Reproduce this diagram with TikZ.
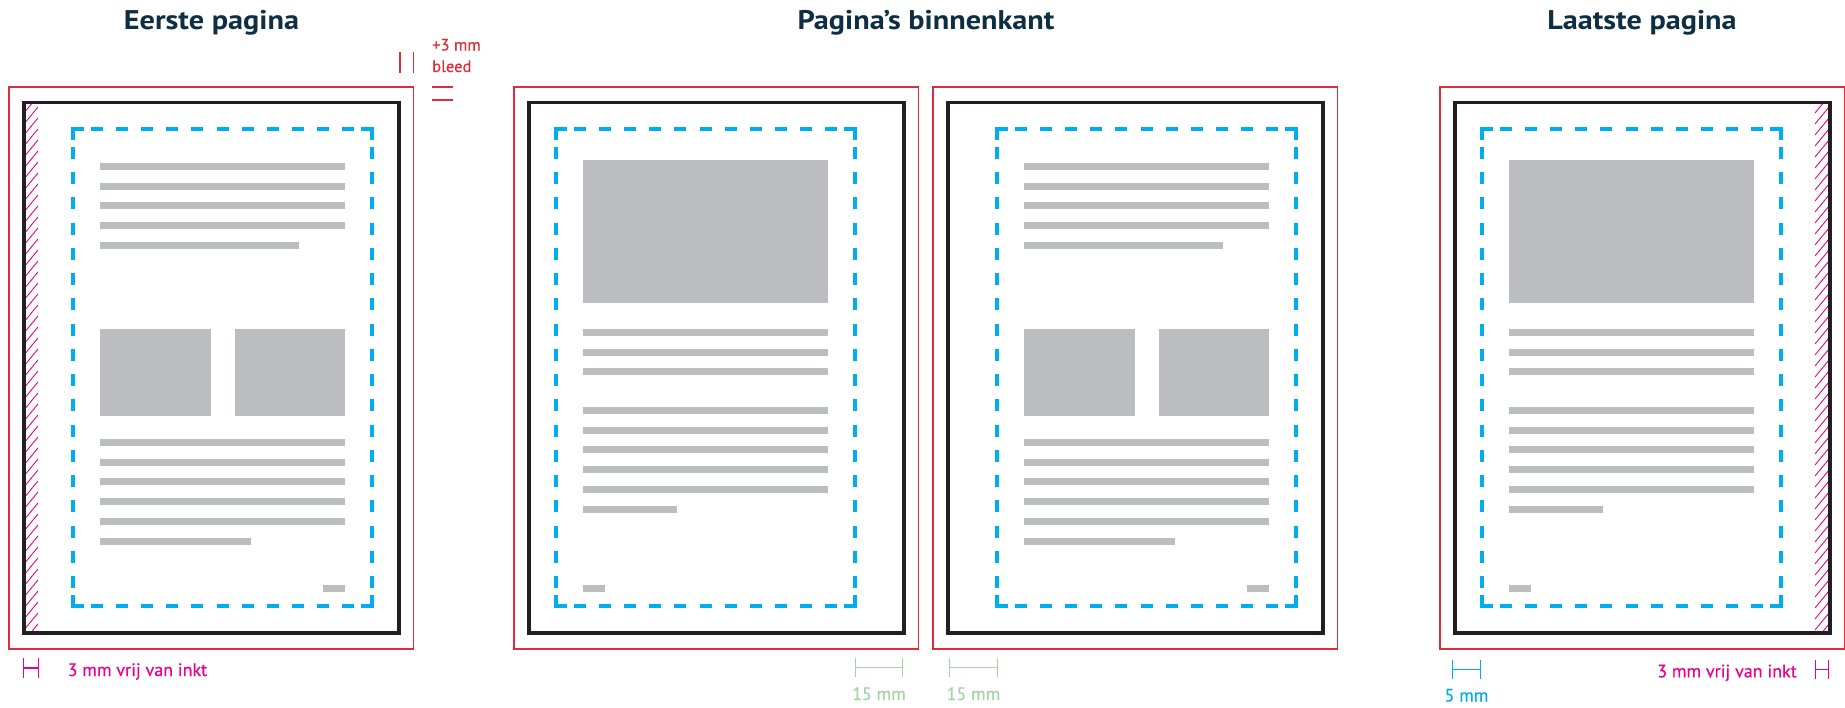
\documentclass[tikz,border=0pt]{standalone}
\usepackage{fontspec}
\setmainfont{PT Sans}
\newfontfamily\titlefont[FakeStretch=1.12]{PT Sans}
\newfontfamily\notefont[FakeBold=0.35]{PT Sans}
\definecolor{titlecol}{RGB}{14,46,68}
\definecolor{bleedred}{RGB}{222,44,56}
\definecolor{trimblack}{RGB}{35,31,32}
\definecolor{safeblue}{RGB}{0,174,239}
\definecolor{contentgray}{RGB}{188,189,192}
\definecolor{inkmag}{RGB}{236,0,140}
\definecolor{gutgreen}{RGB}{164,212,164}
\tikzset{
  bleedline/.style={draw=bleedred, line width=1.5pt},
  trimline/.style={draw=trimblack, line width=3.5pt},
  safeline/.style={draw=safeblue, line width=3.5pt, line cap=butt},
  block/.style={fill=contentgray},
  hatchline/.style={draw=inkmag, line width=0.9pt},
  pagetitle/.style={font=\titlefont\fontsize{27}{32}\selectfont\bfseries, text=titlecol, inner sep=0pt},
  notetext/.style={font=\notefont\fontsize{18}{22}\selectfont, inner sep=0pt},
  smallnote/.style={font=\notefont\fontsize{16.5}{20}\selectfont, inner sep=0pt},
  dimline/.style={line width=1.5pt},
}
\newcommand\mysafebox[4]{%
  \draw[safeline] (#1+11,#2) -- (#1,#2) -- (#1,#2+11);
  \draw[safeline] (#3-11,#2) -- (#3,#2) -- (#3,#2+11);
  \draw[safeline] (#1+11,#4) -- (#1,#4) -- (#1,#4-11);
  \draw[safeline] (#3-11,#4) -- (#3,#4) -- (#3,#4-11);
  \draw[safeline, dash pattern=on 12pt off 13.1pt] (#1+18,#2) -- (#3-18,#2);
  \draw[safeline, dash pattern=on 12pt off 13.1pt] (#1+18,#4) -- (#3-18,#4);
  \draw[safeline, dash pattern=on 12pt off 13.24pt] (#1,#2+18) -- (#1,#4-18);
  \draw[safeline, dash pattern=on 12pt off 13.24pt] (#3,#2+18) -- (#3,#4-18);
}
\newcommand\myhmark[5]{% x1 x2 ytop ybot style
  \draw[dimline,#5] (#1,#3) -- (#1,#4) (#2,#3) -- (#2,#4) (#1,#3/2+#4/2) -- (#2,#3/2+#4/2);
}
\begin{document}
\begin{tikzpicture}[x=1pt,y=-1pt]
\fill[white] (0,0) rectangle (1845,707);
\useasboundingbox (0,0) rectangle (1845,707);

% titles
\node[pagetitle, anchor=base] (t1) at (211.5,29) {Eerste pagina};
\node[pagetitle, anchor=base] (t2) at (926,29) {Pagina’s binnenkant};
\node[pagetitle, anchor=base] (t3) at (1642,29) {Laatste pagina};

% hatched ink-free strips
\begin{scope}
  \clip (24,102.5) rectangle (38,633);
  \foreach \k in {0,...,50} \draw[hatchline] (24,102+\k*11) -- ++(14,-17);
\end{scope}
\begin{scope}
  \clip (1815,102.5) rectangle (1829,633);
  \foreach \k in {0,...,50} \draw[hatchline] (1815,102+\k*11) -- ++(14,-17);
\end{scope}

% pages
\foreach \X/\bl/\br/\typ in {9/49/27/0, 514/27/49/1, 933/49/27/0, 1440/27/49/1} {
  \pgfmathsetmacro\BL{\X+15}
  \pgfmathsetmacro\BR{\X+390}
  \pgfmathsetmacro\SL{\BL+\bl}
  \pgfmathsetmacro\SR{\BR-\br}
  \pgfmathsetmacro\CL{\SL+27}
  \pgfmathsetmacro\CR{\SR-27}
  \draw[bleedline] (\X,87) rectangle (\X+404.3,649);
  \draw[trimline] (\BL,102.5) rectangle (\BR,633);
  \mysafebox{\SL}{129}{\SR}{606}
  \ifnum\typ=0
    \foreach \y in {166.5,186.2,205.9,225.6}
      \fill[block] (\CL,\y-3.5) rectangle (\CR,\y+3.5);
    \fill[block] (\CL,241.8) rectangle (\CL+199,248.8);
    \fill[block] (\CL,329) rectangle (\CL+110.5,416);
    \fill[block] (\CR-110.5,329) rectangle (\CR,416);
    \foreach \y in {442.5,462.2,481.9,501.6,521.3}
      \fill[block] (\CL,\y-3.5) rectangle (\CR,\y+3.5);
    \fill[block] (\CL,537.5) rectangle (\CL+150.7,544.5);
    \fill[block] (\CR-22,585) rectangle (\CR,592);
  \else
    \fill[block] (\CL,160) rectangle (\CR,302.7);
    \foreach \y in {332.5,352,371.5}
      \fill[block] (\CL,\y-3.5) rectangle (\CR,\y+3.5);
    \foreach \y in {410.5,430.2,449.9,469.6,489.3}
      \fill[block] (\CL,\y-3.5) rectangle (\CR,\y+3.5);
    \fill[block] (\CL,505.5) rectangle (\CL+94,512.5);
    \fill[block] (\CL,585) rectangle (\CL+22,592);
  \fi
}

% bleed annotation
\draw[dimline, bleedred] (400,52) -- (400,73) (413.5,52) -- (413.5,73);
\draw[dimline, bleedred] (432,87) -- (453,87) (432,100) -- (453,100);
\node[smallnote, text=bleedred, anchor=base west] (b1) at (432,50.5) {+3 mm};
\node[smallnote, text=bleedred, anchor=base west] (b2) at (432,72) {bleed};

% ink-free annotations
\myhmark{23.5}{38.5}{658}{678}{inkmag}
\node[notetext, text=inkmag, anchor=base west] (n1) at (67.5,676) {3 mm vrij van inkt};
\myhmark{1815.5}{1828.5}{660}{679}{inkmag}
\node[notetext, text=inkmag, anchor=base east] (n2) at (1797,677.3) {3 mm vrij van inkt};

% margins
\myhmark{855.5}{902.5}{658}{677}{gutgreen}
\node[notetext, text=gutgreen, anchor=base] (g1) at (879,700) {15 mm};
\myhmark{949.5}{997.5}{658}{677}{gutgreen}
\node[notetext, text=gutgreen, anchor=base] (g2) at (973.5,700) {15 mm};
\myhmark{1452.5}{1480.5}{660}{679}{safeblue}
\node[notetext, text=safeblue, anchor=base] (m1) at (1466.5,701.5) {5 mm};
\end{tikzpicture}
\end{document}
